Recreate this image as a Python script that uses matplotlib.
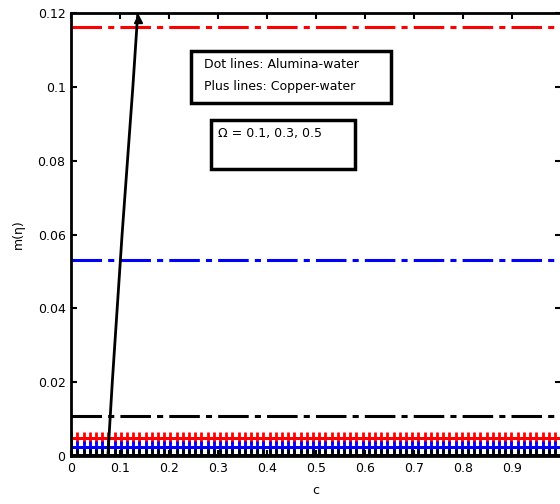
import numpy as np
import matplotlib
matplotlib.use('Agg')
import matplotlib.pyplot as plt
from matplotlib.patches import Rectangle

plt.rc('font', size=9)

# steep black solid curve (c, value)
curve_c = [0.075, 0.084, 0.094, 0.104, 0.115, 0.126, 0.136, 0.141]
curve_v = [0.0, 0.02, 0.04, 0.06, 0.08, 0.10, 0.12, 0.13]

# "dot" lines: alumina-water, constant levels
dot_levels = [0.1162, 0.0532, 0.011]
dot_colors = ['red', 'blue', 'black']

# "plus" lines: copper-water, constant levels
plus_levels = [0.0048, 0.0024, 0.0003]
plus_colors = ['red', 'blue', 'black']

xticks = [0, 0.1, 0.2, 0.3, 0.4, 0.5, 0.6, 0.7, 0.8, 0.9]
yticks = [0, 0.02, 0.04, 0.06, 0.08, 0.1, 0.12]

fig = plt.figure(figsize=(5.6, 5.04), dpi=100)
ax = fig.add_axes([0.127, 0.095, 0.875, 0.879])

c = np.linspace(0, 1, 80)
for lev, col in zip(dot_levels, dot_colors):
    ax.plot([0, 1], [lev, lev], color=col, lw=2.2, linestyle=(0, (10, 2, 2, 2)))
for lev, col in zip(plus_levels, plus_colors):
    ax.plot(c, np.full_like(c, lev), color=col, lw=2, marker='+', ms=8, mew=2)

ax.plot(curve_c, curve_v, color='black', lw=2)
ax.plot([curve_c[6]], [0.1185], marker='^', color='black', ms=6)

ax.set_xlim(0, 1)
ax.set_ylim(0, 0.12)
ax.set_xticks(xticks)
ax.set_xticklabels(['0', '0.1', '0.2', '0.3', '0.4', '0.5', '0.6', '0.7', '0.8', '0.9'])
ax.set_yticks(yticks)
ax.set_yticklabels(['0', '0.02', '0.04', '0.06', '0.08', '0.1', '0.12'])
ax.tick_params(direction='in', top=True, right=True, length=4, width=1.5, pad=4)
for s in ax.spines.values():
    s.set_linewidth(2)

ax.set_xlabel('c', fontsize=9, labelpad=7)
ax.set_ylabel('m(η)', fontsize=9, labelpad=9)

# legend-like text boxes
ax.add_patch(Rectangle((0.244, 0.0957), 0.408, 0.014, fill=True, fc='white',
                       ec='black', lw=2.5, zorder=5))
ax.text(0.271, 0.1062, 'Dot lines: Alumina-water', va='center', zorder=6)
ax.text(0.271, 0.1000, 'Plus lines: Copper-water', va='center', zorder=6)

ax.add_patch(Rectangle((0.285, 0.0778), 0.295, 0.0133, fill=True, fc='white',
                       ec='black', lw=2.5, zorder=5))
ax.text(0.299, 0.0873, 'Ω = 0.1, 0.3, 0.5', va='center', zorder=6)

fig.savefig('out.png', dpi=100)
